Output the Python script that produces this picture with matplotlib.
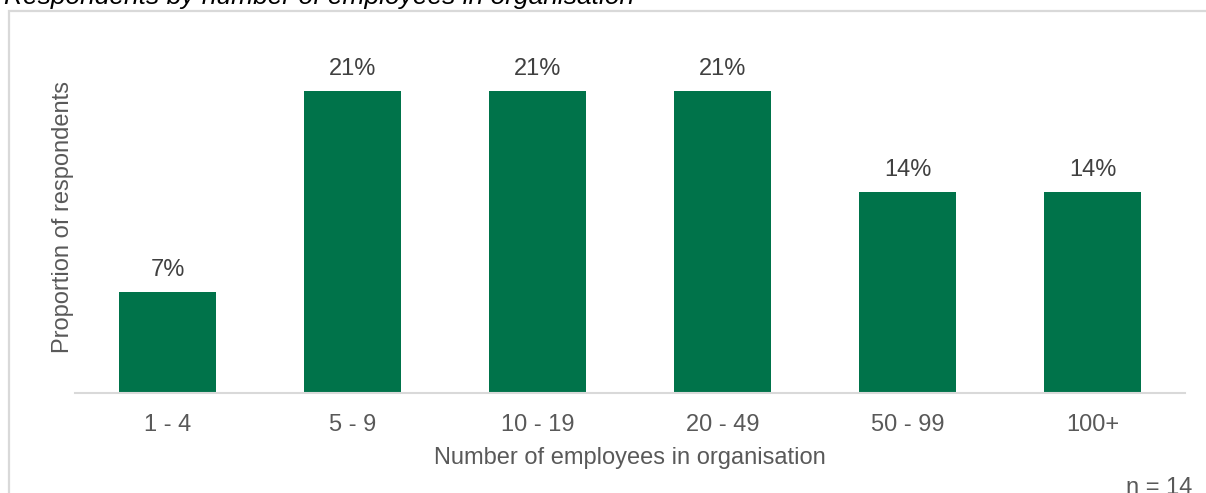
import matplotlib.pyplot as plt
from matplotlib.patches import Rectangle

# Data
categories = ["1 - 4", "5 - 9", "10 - 19", "20 - 49", "50 - 99", "100+"]
shares = [7.14, 21.43, 21.43, 21.43, 14.29, 14.29]
labels = ["7%", "21%", "21%", "21%", "14%", "14%"]

green = "#00734a"
grey_text = "#595959"

plt.rcParams['font.family'] = ['Liberation Sans', 'DejaVu Sans']

fig = plt.figure(figsize=(12.06, 4.93), dpi=100)
W, H = 1206, 493

# outer chart border (partly cut off by the image edge)
fig.patches.append(Rectangle((9 / W, -0.2), 1.2, 1 - 11 / H + 0.2,
                             transform=fig.transFigure, fill=False,
                             edgecolor="#d9d9d9", linewidth=1.6))

ax = fig.add_axes([75 / W, 1 - 393 / H, 1110 / W, 352 / H])
x = range(len(categories))
bars = ax.bar(x, shares, width=0.524, color=green)
for b, lab in zip(bars, labels):
    ax.text(b.get_x() + b.get_width() / 2, b.get_height() + 0.8, lab,
            ha="center", va="bottom", fontsize=17, color="#404040")

ax.set_xlim(-0.5, 5.5)
ax.set_ylim(0, 25)
ax.set_xticks(list(x))
ax.set_xticklabels(categories, fontsize=17, color=grey_text)
ax.set_yticks([])
ax.tick_params(axis="x", length=0, pad=15)
for s in ["top", "right", "left"]:
    ax.spines[s].set_visible(False)
ax.spines["bottom"].set_color("#d9d9d9")
ax.spines["bottom"].set_linewidth(1.5)

ax.set_xlabel("Number of employees in organisation", fontsize=17,
              color=grey_text, labelpad=8)
ax.set_ylabel("Proportion of respondents", fontsize=17, color=grey_text,
              labelpad=1)

fig.text(0.003, 1 - 4 / H, "Respondents by number of employees in organisation",
         fontsize=19, style="italic", color="#000000", va="baseline", ha="left")
fig.text(1192 / W, 1 - 494 / H, "n = 14", fontsize=17, color=grey_text,
         ha="right", va="baseline")

fig.savefig("out.png", dpi=100)
